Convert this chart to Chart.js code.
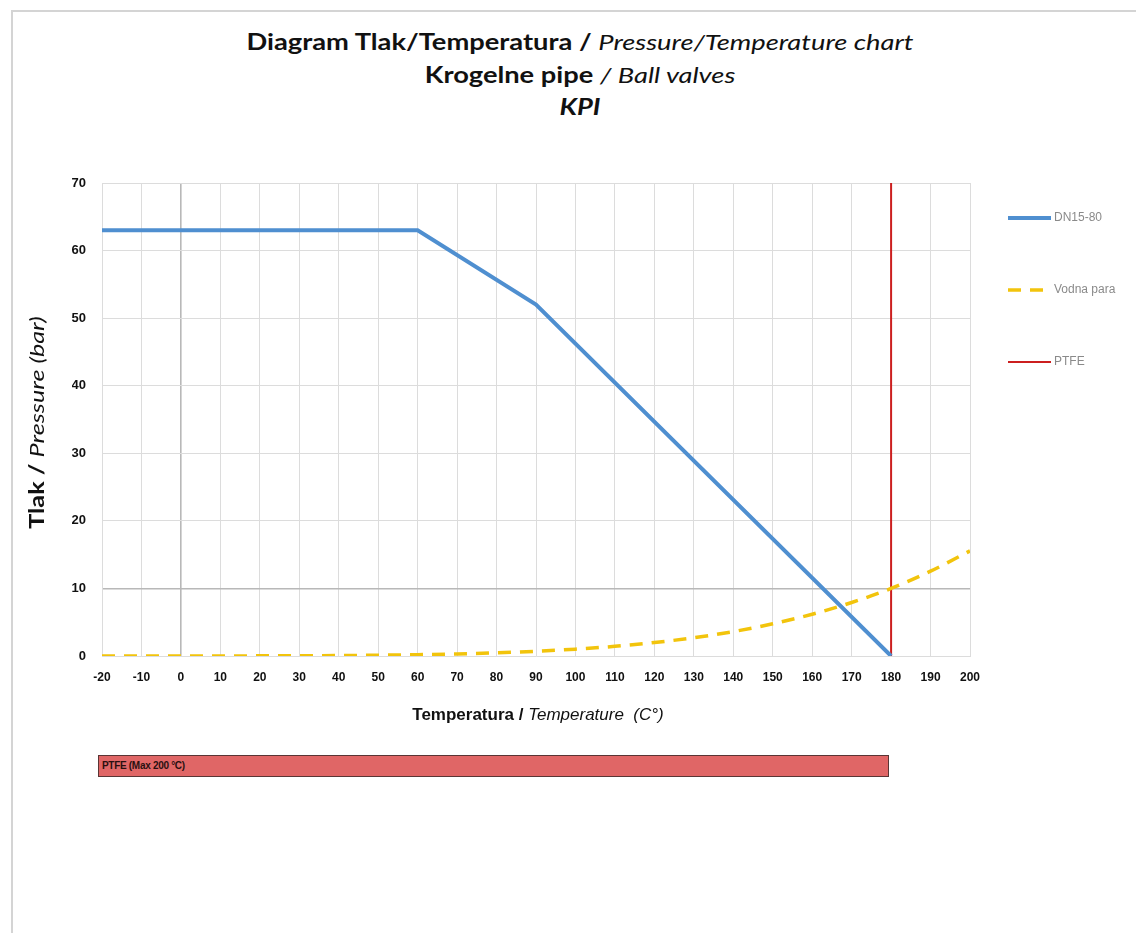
<!DOCTYPE html>
<html lang="sl">
<head>
    <meta charset="UTF-8">
    <title>Diagram Tlak/Temperatura - KPI</title>
    <script src="https://cdn.jsdelivr.net/npm/chart.js"></script>
    <style>
        html, body { margin: 0; padding: 0; background: #fff; }
        .page {
            position: relative;
            width: 1136px;
            height: 933px;
            overflow: hidden;
        }
        .frame {
            position: absolute;
            left: 11px; top: 10px; right: -4px; bottom: -4px;
            border-left: 2px solid #d4d4d4;
            border-top: 2px solid #d4d4d4;
        }
        .titles {
            position: absolute;
            left: 24px; right: 0; top: 26px;
            text-align: center;
            font-family: Lato, 'Open Sans', sans-serif;
            font-size: 22px;
            line-height: 32.5px;
            color: #111;
        }
        .titles div { transform: scaleX(1.24); }
        .titles b { font-weight: 700; }
        .titles i { font-weight: 400; }
        #chart { position: absolute; left: 0; top: 0; }
        .ptfe-bar {
            position: absolute;
            left: 98px; top: 755px;
            width: 786px; height: 20px;
            background: #e06666;
            border: 1px solid #5a3535;
            font-family: 'Liberation Sans', Arial, sans-serif;
            font-weight: 700;
            font-size: 10px;
            line-height: 20px;
            padding-left: 3px;
            letter-spacing: -0.3px;
            box-sizing: content-box;
            color: #2a1010;
        }
    </style>
</head>
<body>
<div class="page">
    <div class="frame"></div>
    <div class="titles">
        <div><b>Diagram Tlak/Temperatura / </b><i>Pressure/Temperature chart</i></div>
        <div><b>Krogelne pipe </b><i>/ Ball valves</i></div>
        <div><b><i style="font-weight:700">KPI</i></b></div>
    </div>
    <canvas id="chart" width="1136" height="933"></canvas>
    <div class="ptfe-bar">PTFE (Max 200 °C)</div>
</div>

<script>
    // Temperature (°C) / pressure (bar) values
    const dnTemps = [-20, 60, 90, 180];
    const dnPressure = [63, 63, 52, 0];

    const steamTemps = [-20, -10, 0, 10, 20, 30, 40, 50, 60, 70, 80, 90, 100,
                        110, 120, 130, 140, 150, 160, 170, 180, 190, 200];
    const steamPressure = [0, 0, 0.01, 0.01, 0.02, 0.04, 0.07, 0.12, 0.2, 0.31, 0.47, 0.7, 1.01,
                           1.43, 1.99, 2.7, 3.61, 4.76, 6.18, 7.92, 10.0, 12.55, 15.55];

    const ptfeTemps = [180, 180];
    const ptfePressure = [0, 70];

    const seriesNames = ['DN15-80', 'Vodna para', 'PTFE'];

    const toPoints = (xs, ys) => xs.map((x, i) => ({ x: x, y: ys[i] }));

    const tickFont = "'Liberation Sans', Arial, sans-serif";

    // axis titles with mixed bold / italic parts, and the legend on the right
    const decorations = {
        id: 'decorations',
        afterDraw(chart) {
            const ctx = chart.ctx;
            const area = chart.chartArea;

            const drawParts = (parts, cx, cy) => {
                let total = 0;
                parts.forEach(p => { ctx.font = p.font; p.w = ctx.measureText(p.text).width; total += p.w; });
                let x = cx - total / 2;
                parts.forEach(p => {
                    ctx.font = p.font;
                    ctx.fillText(p.text, x, cy);
                    x += p.w;
                });
            };

            ctx.save();
            ctx.fillStyle = '#111';
            ctx.textBaseline = 'middle';
            ctx.textAlign = 'left';

            // x axis title
            drawParts([
                { text: 'Temperatura / ', font: 'bold 17px ' + tickFont },
                { text: 'Temperature  (C°)', font: 'italic 17px ' + tickFont }
            ], (area.left + area.right) / 2 + 2, area.bottom + 59);

            // y axis title
            ctx.translate(38, (area.top + area.bottom) / 2 + 3);
            ctx.rotate(-Math.PI / 2);
            ctx.scale(1.26, 1);
            drawParts([
                { text: 'Tlak / ', font: 'bold 20px Lato, sans-serif' },
                { text: 'Pressure (bar)', font: 'italic 20px Lato, sans-serif' }
            ], 0, 0);
            ctx.restore();

            // legend
            ctx.save();
            ctx.font = '12px ' + tickFont;
            ctx.textBaseline = 'middle';
            chart.data.datasets.forEach((ds, i) => {
                const y = area.top + 35 + i * 72;
                const x0 = area.right + 38;
                ctx.strokeStyle = ds.borderColor;
                ctx.lineWidth = ds.borderWidth;
                ctx.setLineDash(ds.borderDash || []);
                ctx.beginPath();
                ctx.moveTo(x0, y);
                ctx.lineTo(x0 + 43, y);
                ctx.stroke();
                ctx.setLineDash([]);
                ctx.fillStyle = '#8a8a8a';
                ctx.fillText(ds.label, x0 + 46, y);
            });
            ctx.restore();
        }
    };

    const ctx = document.getElementById('chart').getContext('2d');
    const chart = new Chart(ctx, {
        type: 'line',
        data: {
            datasets: [{
                label: seriesNames[0],
                data: toPoints(dnTemps, dnPressure),
                borderColor: '#4f8fd0',
                borderWidth: 4,
                pointRadius: 0,
                tension: 0
            }, {
                label: seriesNames[1],
                data: toPoints(steamTemps, steamPressure),
                borderColor: '#f2c40c',
                borderWidth: 3.5,
                borderDash: [13, 9],
                pointRadius: 0,
                cubicInterpolationMode: 'monotone'
            }, {
                label: seriesNames[2],
                data: toPoints(ptfeTemps, ptfePressure),
                borderColor: '#cc1f1f',
                borderWidth: 2,
                pointRadius: 0
            }]
        },
        options: {
            responsive: false,
            animation: false,
            layout: {
                padding: { left: 72, right: 166, top: 183, bottom: 247 }
            },
            plugins: {
                legend: { display: false },
                tooltip: { enabled: false }
            },
            scales: {
                x: {
                    type: 'linear',
                    min: -20,
                    max: 200,
                    afterFit(scale) { scale.height = 30; },
                    ticks: {
                        stepSize: 10,
                        padding: 14,
                        color: '#111',
                        font: { family: tickFont, size: 12, weight: 'bold' }
                    },
                    grid: {
                        drawTicks: false,
                        color: ctx => ctx.tick && ctx.tick.value === 0 ? '#b8b8b8' : '#dcdcdc',
                        lineWidth: ctx => ctx.tick && ctx.tick.value === 0 ? 1.6 : 1
                    },
                    border: { color: '#dcdcdc' }
                },
                y: {
                    min: 0,
                    max: 70,
                    afterFit(scale) { scale.width = 30; },
                    ticks: {
                        stepSize: 10,
                        padding: 16,
                        color: '#111',
                        font: { family: tickFont, size: 13, weight: 'bold' }
                    },
                    grid: {
                        drawTicks: false,
                        color: ctx => ctx.tick && ctx.tick.value === 10 ? '#b8b8b8' : '#dcdcdc',
                        lineWidth: ctx => ctx.tick && ctx.tick.value === 10 ? 1.6 : 1
                    },
                    border: { color: '#dcdcdc' }
                }
            }
        },
        plugins: [decorations]
    });
</script>
</body>
</html>
